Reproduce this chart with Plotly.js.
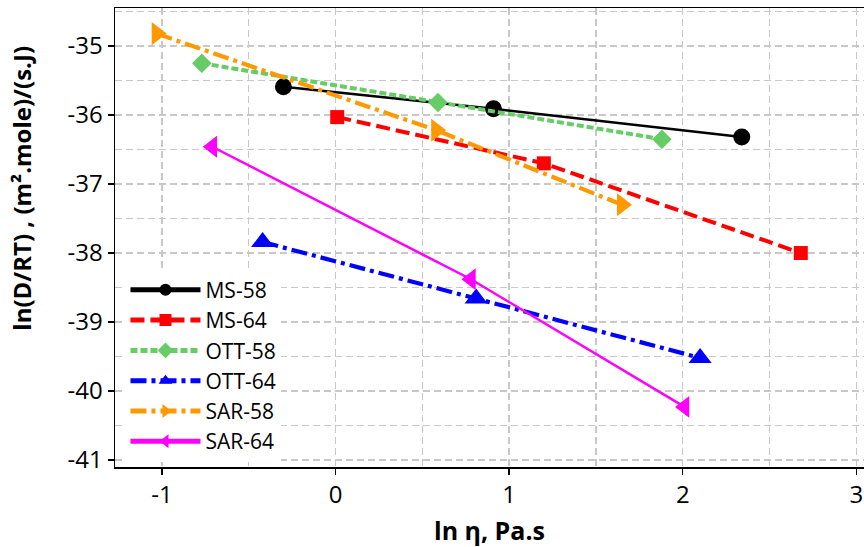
<!DOCTYPE html>
<html>
<head>
<meta charset="utf-8">
<script src="https://cdn.plot.ly/plotly-3.0.1.min.js"></script>
<style>html,body{margin:0;padding:0;background:#fff;}#chart{width:864px;height:547px;}</style>
</head>
<body>
<div id="chart"></div>
<script>
// Data
const seriesNames = ["MS-58", "MS-64", "OTT-58", "OTT-64", "SAR-58", "SAR-64"];
const ms58_x = [-0.30, 0.91, 2.34];
const ms58_y = [-35.59, -35.91, -36.32];
const ms64_x = [0.01, 1.20, 2.68];
const ms64_y = [-36.03, -36.70, -38.00];
const ott58_x = [-0.77, 0.59, 1.88];
const ott58_y = [-35.25, -35.82, -36.35];
const ott64_x = [-0.42, 0.81, 2.10];
const ott64_y = [-37.84, -38.66, -39.52];
const sar58_x = [-1.03, 0.58, 1.65];
const sar58_y = [-34.82, -36.22, -37.30];
const sar64_x = [-0.71, 0.78, 2.01];
const sar64_y = [-36.46, -38.38, -40.23];

const xTickVals = [-1, 0, 1, 2, 3];
const yTickVals = [-41, -40, -39, -38, -37, -36, -35];

const FONT = "Open Sans, Noto Sans, DejaVu Sans, sans-serif";

function tr(name, x, y, color, width, dash, symbol, size) {
  return {
    type: "scatter", mode: "lines+markers", name: name, x: x, y: y,
    line: {color: color, width: width, dash: dash},
    marker: {color: color, symbol: symbol, size: size, line: {width: 0}}
  };
}

const data = [
  tr(seriesNames[0], ms58_x, ms58_y, "#000000", 2.5, "solid", "circle", 17),
  tr(seriesNames[1], ms64_x, ms64_y, "#ff0000", 4, "14px,6px", "square", 14),
  tr(seriesNames[2], ott58_x, ott58_y, "#66cc66", 4, "7px,3px", "diamond", 15),
  tr(seriesNames[3], ott64_x, ott64_y, "#0000ff", 4.2, "16px,5px,4px,5px", "triangle-up", 20),
  tr(seriesNames[4], sar58_x, sar58_y, "#ff9900", 4.2, "16px,5px,4px,5px", "triangle-right", 20),
  tr(seriesNames[5], sar64_x, sar64_y, "#ff00ff", 2.5, "solid", "triangle-left", 19)
];

const gridDash = "7px,4px";
const gridColor = "#c8c8c8";

const layout = {
  width: 864, height: 547,
  margin: {l: 115, r: 0, t: 8, b: 80},
  paper_bgcolor: "#ffffff", plot_bgcolor: "#ffffff",
  font: {family: FONT, color: "#000"},
  showlegend: true,
  legend: {
    x: 0.014, y: 0.43, xanchor: "left", yanchor: "top",
    bgcolor: "#ffffff", borderwidth: 0,
    font: {family: FONT, size: 21, color: "#000"},
    tracegroupgap: 0, itemwidth: 70, itemsizing: "constant"
  },
  xaxis: {
    range: [-1.27, 3.044],
    tickvals: xTickVals, ticktext: xTickVals.map(String),
    ticks: "outside", ticklen: 6, tickwidth: 1.5, tickcolor: "#000",
    showline: true, linecolor: "#000", linewidth: 1.5, mirror: true,
    showgrid: true, gridcolor: gridColor, griddash: gridDash, gridwidth: 1.3,
    minor: {dtick: 0.5, tick0: 0, showgrid: true, gridcolor: gridColor, griddash: gridDash, gridwidth: 1.3, ticks: ""},
    zeroline: false,
    tickfont: {family: FONT, size: 24, color: "#000"},
    title: {text: "ln η, Pa.s", font: {family: FONT, size: 25, color: "#000", weight: "bold"}, standoff: 17}
  },
  yaxis: {
    range: [-41.101, -34.449],
    tickvals: yTickVals, ticktext: yTickVals.map(String),
    ticks: "outside", ticklen: 6, tickwidth: 1.5, tickcolor: "#000",
    showline: true, linecolor: "#000", linewidth: 1.5, mirror: false,
    showgrid: true, gridcolor: gridColor, griddash: gridDash, gridwidth: 1.3,
    minor: {dtick: 0.5, tick0: 0, showgrid: true, gridcolor: gridColor, griddash: gridDash, gridwidth: 1.3, ticks: ""},
    zeroline: false,
    tickfont: {family: FONT, size: 24, color: "#000"}
  },
  annotations: [{
    text: "<b>ln(D/RT) , (m².mole)/(s.J)</b>",
    xref: "paper", yref: "paper", x: -0.1245, y: 0.608,
    xanchor: "center", yanchor: "middle", textangle: -90, showarrow: false,
    font: {family: FONT, size: 24, color: "#000"}
  }]
};

Plotly.newPlot("chart", data, layout, {displayModeBar: false, staticPlot: true});
</script>
</body>
</html>
